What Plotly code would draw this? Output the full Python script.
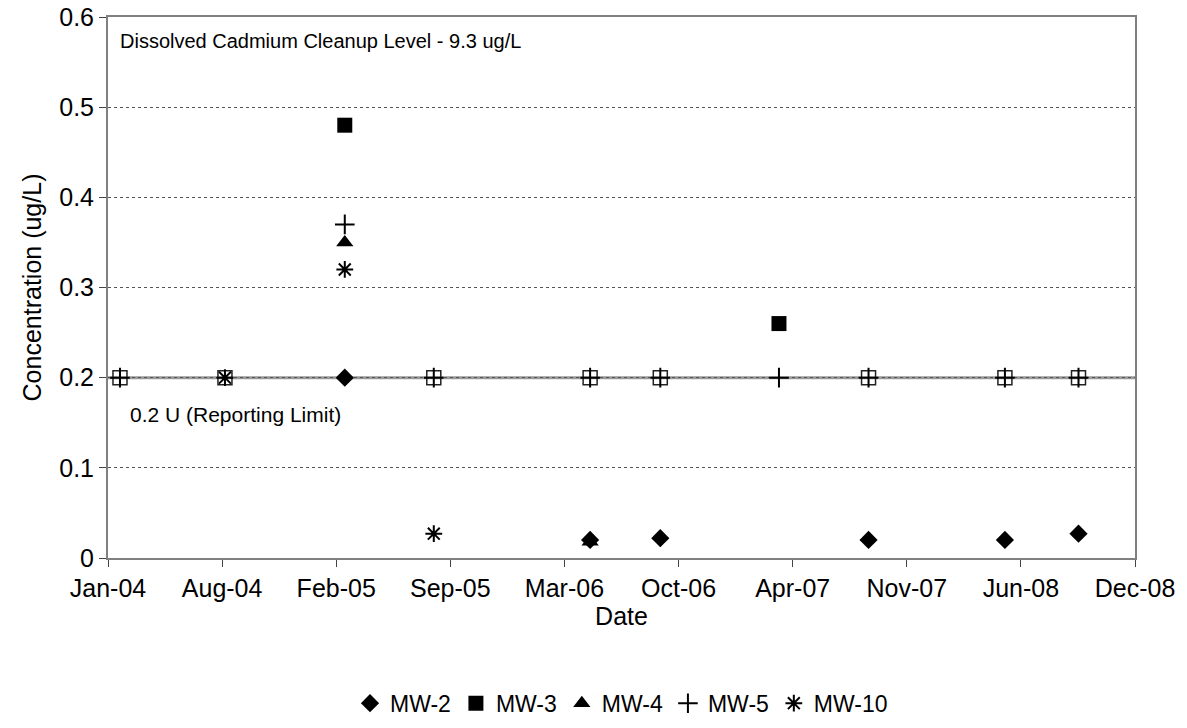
import plotly.graph_objects as go

# Sampling dates
dates = ["2004-02-04", "2004-08-06", "2005-03-04", "2005-08-07", "2006-05-08",
         "2006-09-08", "2007-04-04", "2007-09-08", "2008-05-04", "2008-09-10"]

# Concentrations (ug/L); None = not plotted
mw2 = [None, None, 0.2, None, 0.020, 0.022, None, 0.020, 0.020, 0.027]
mw3 = [None, None, 0.48, None, None, None, 0.26, None, None, None]
mw3_nd = [0.2, 0.2, None, 0.2, 0.2, 0.2, None, 0.2, 0.2, 0.2]   # non-detects at reporting limit
mw4 = [None, None, 0.35, None, 0.018, None, None, None, None, None]
mw5 = [0.2, None, 0.37, 0.2, 0.2, 0.2, 0.2, 0.2, 0.2, 0.2]
mw10 = [None, 0.2, 0.32, 0.027, None, None, None, None, None, None]

tick_dates = ["2004-01-14", "2004-08-01", "2005-02-17", "2005-09-05", "2006-03-24",
              "2006-10-10", "2007-04-28", "2007-11-14", "2008-06-01", "2008-12-18"]
tick_labels = ["Jan-04", "Aug-04", "Feb-05", "Sep-05", "Mar-06",
               "Oct-06", "Apr-07", "Nov-07", "Jun-08", "Dec-08"]
y_ticks = [0, 0.1, 0.2, 0.3, 0.4, 0.5, 0.6]

reporting_limit = 0.2

FONT = "Liberation Sans, Arial, sans-serif"

fig = go.Figure()

# non-detect open squares (not in legend)
fig.add_trace(go.Scatter(x=dates, y=mw3_nd, mode="markers", showlegend=False,
                         marker=dict(symbol="square-open", size=14, color="#222222",
                                     line=dict(width=1.5, color="#222222")),
                         hoverinfo="skip"))

fig.add_trace(go.Scatter(x=dates, y=mw2, mode="markers", name="MW-2",
                         marker=dict(symbol="diamond", size=14, color="black")))
fig.add_trace(go.Scatter(x=dates, y=mw3, mode="markers", name="MW-3",
                         marker=dict(symbol="square", size=15, color="black")))
fig.add_trace(go.Scatter(x=dates, y=mw4, mode="markers", name="MW-4",
                         marker=dict(symbol="triangle-up", size=15, color="black")))
fig.add_trace(go.Scatter(x=dates, y=mw5, mode="markers", name="MW-5",
                         marker=dict(symbol="cross-thin-open", size=14, color="black",
                                     line=dict(width=2, color="black"))))
fig.add_trace(go.Scatter(x=dates, y=mw10, mode="markers", name="MW-10",
                         marker=dict(symbol="asterisk-open", size=14, color="black",
                                     line=dict(width=2, color="black"))))

# reporting limit line
fig.add_shape(type="line", xref="paper", x0=0, x1=1, yref="y",
              y0=reporting_limit, y1=reporting_limit,
              line=dict(color="#999999", width=3), layer="below")

fig.add_annotation(text="Dissolved Cadmium Cleanup Level - 9.3 ug/L",
                   xref="paper", yref="paper", x=0.010, y=0.955,
                   xanchor="left", yanchor="middle", showarrow=False,
                   font=dict(family=FONT, size=20, color="black"))
fig.add_annotation(text="0.2 U (Reporting Limit)",
                   xref="paper", yref="paper", x=0.019, y=0.265,
                   xanchor="left", yanchor="middle", showarrow=False,
                   font=dict(family=FONT, size=21, color="black"))

fig.update_layout(
    width=1187, height=728,
    margin=dict(l=108, r=52, t=17, b=170, autoexpand=False),
    plot_bgcolor="white", paper_bgcolor="white",
    font=dict(family=FONT, size=25, color="black"),
    legend=dict(orientation="h", x=0.5, xanchor="center",
                yref="container", y=0.034, yanchor="middle",
                font=dict(family=FONT, size=23), itemwidth=30,
                tracegroupgap=0),
    xaxis=dict(
        range=[tick_dates[0], tick_dates[-1]],
        tickvals=tick_dates, ticktext=tick_labels,
        ticks="outside", ticklen=7, tickcolor="#444444",
        showgrid=False, showline=True, linecolor="#808080", linewidth=2, mirror=True,
        zeroline=False, automargin=False,
        title=dict(text="Date", standoff=3, font=dict(size=25)),
        tickfont=dict(size=25),
    ),
    yaxis=dict(
        range=[0, 0.6], tickvals=y_ticks,
        ticktext=[("0" if v == 0 else f"{v:.1f}") for v in y_ticks],
        ticks="outside", ticklen=7, tickcolor="#444444",
        showgrid=True, gridcolor="#555555", gridwidth=1, griddash="dot",
        showline=True, linecolor="#808080", linewidth=2, mirror=True,
        zeroline=False, automargin=False,
        title=dict(text="Concentration (ug/L)", standoff=10, font=dict(size=25)),
        tickfont=dict(size=25),
    ),
)

fig.write_html("out.html", config={"displayModeBar": False},
               post_script="document.body.style.margin='0';")
